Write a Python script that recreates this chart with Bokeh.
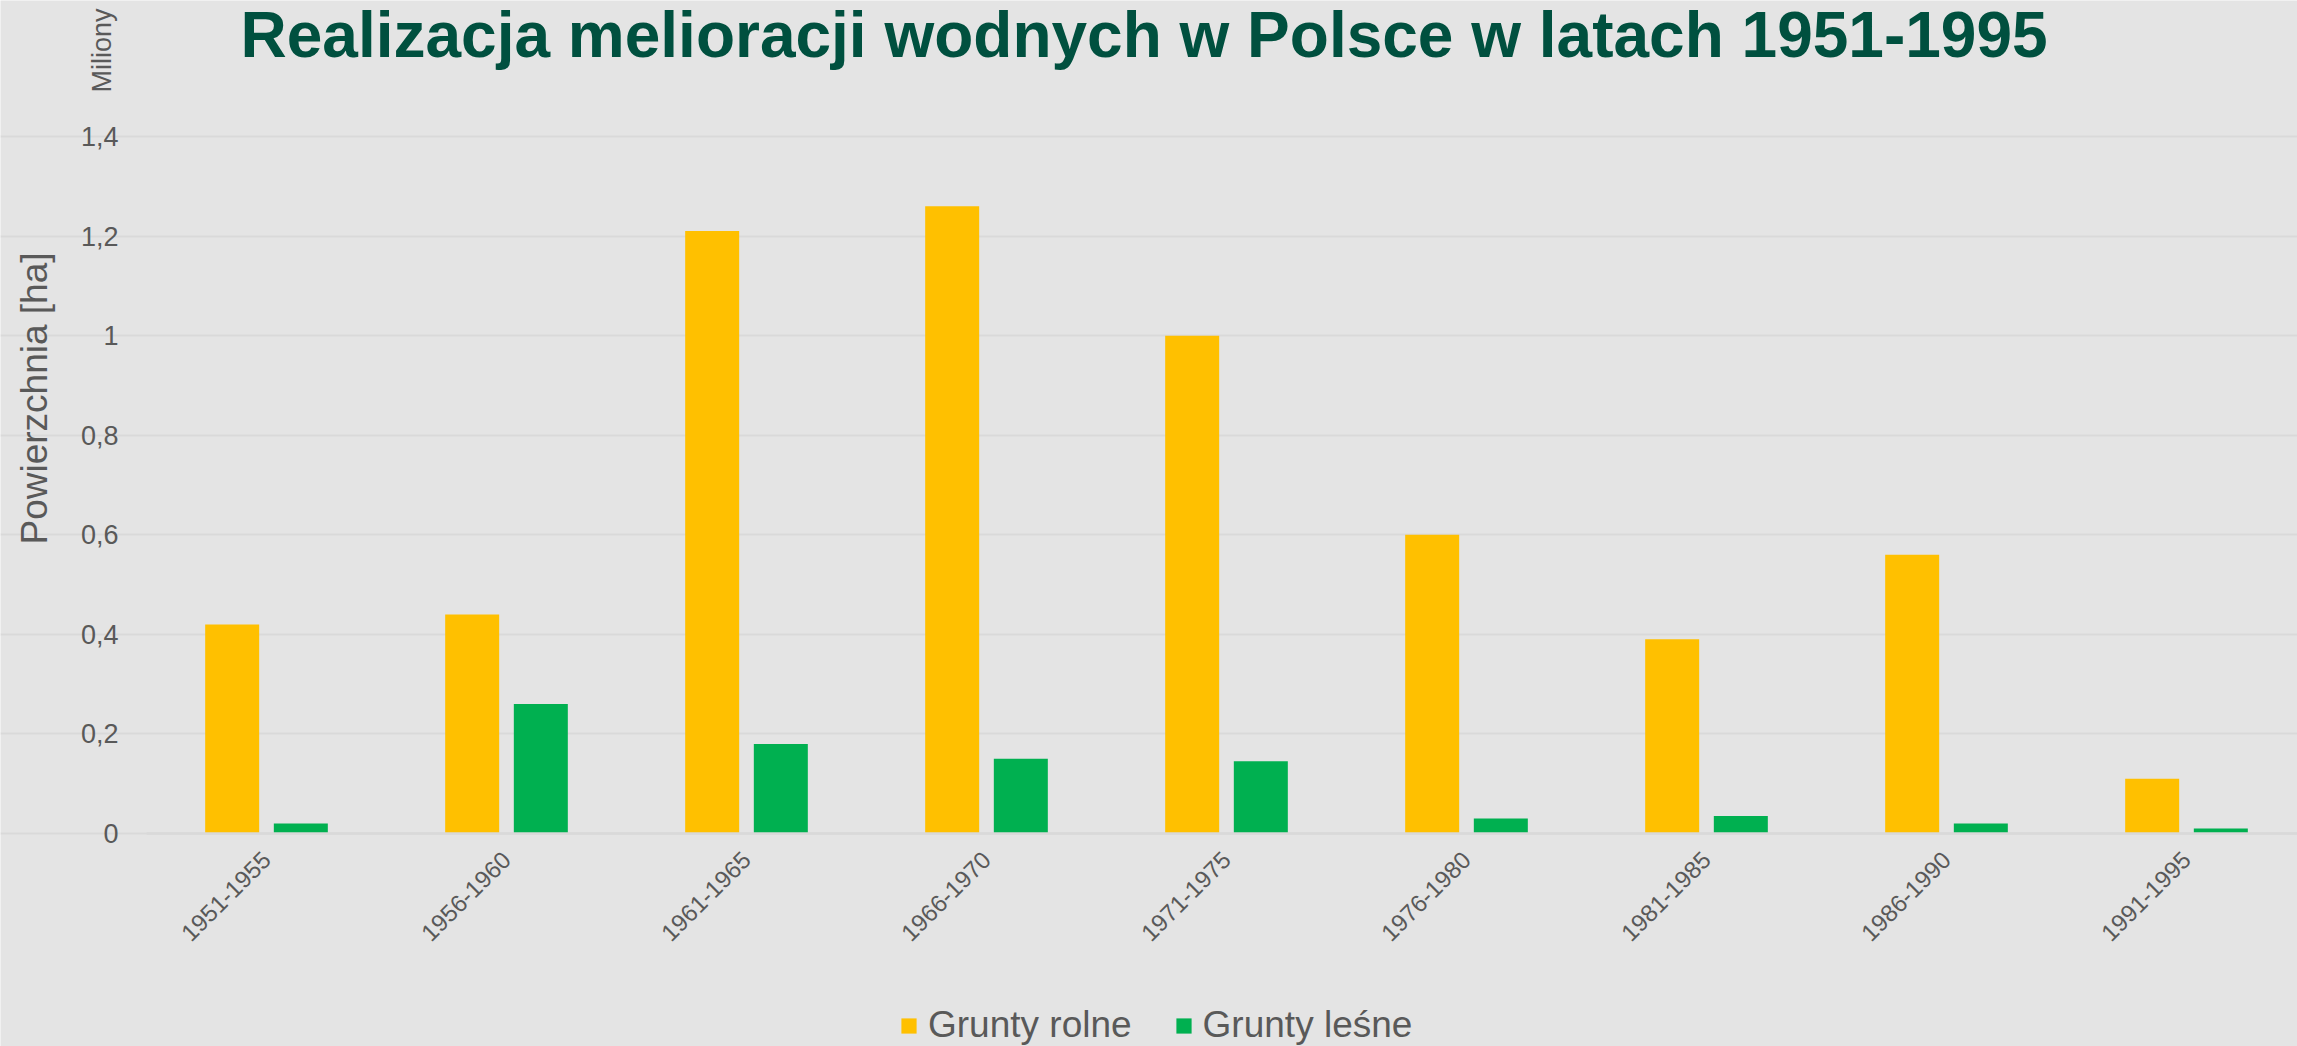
import math
from bokeh.plotting import figure
from bokeh.models import (ColumnDataSource, Range1d, Label, Legend, LegendItem,
                          CustomJSTickFormatter, FixedTicker)
from bokeh.transform import dodge
from bokeh.embed import file_html
from bokeh.resources import INLINE

# ---- data ----
periods = ["1951-1955", "1956-1960", "1961-1965", "1966-1970", "1971-1975",
           "1976-1980", "1981-1985", "1986-1990", "1991-1995"]
grunty_rolne = [0.42, 0.44, 1.21, 1.26, 1.00, 0.60, 0.39, 0.56, 0.11]
grunty_lesne = [0.02, 0.26, 0.18, 0.15, 0.145, 0.03, 0.035, 0.02, 0.01]
y_ticks = [0, 0.2, 0.4, 0.6, 0.8, 1.0, 1.2, 1.4]
series_names = ["Grunty rolne", "Grunty leśne"]
title_text = "Realizacja melioracji wodnych w Polsce w latach 1951-1995"
y_title = "Powierzchnia [ha]"
unit_text = "Miliony"

BG = "#E4E4E4"
GRID = "#D9D9D9"
TXT = "#595959"
FONT = "Liberation Sans"
YELLOW = "#FFC000"
GREEN = "#00B050"

W, H = 2297, 1046
# layout geometry (pixels): plot area from x=146, zero line at y=833, 1.4 at y=136
CAT_PX = 240.0
X0_PX = 266.0            # centre of first category
Y0_PX, YTOP_PX = 833.0, 136.0
k = (Y0_PX - YTOP_PX) / 1.4
x_start = -X0_PX / CAT_PX
x_end = (W - X0_PX) / CAT_PX
y_start = -(H - Y0_PX) / k
y_end = Y0_PX / k
cat_left = -0.5

idx = list(range(len(periods)))
src = ColumnDataSource(dict(idx=idx, period=periods, rolne=grunty_rolne, lesne=grunty_lesne))

p = figure(width=W, height=H, x_range=Range1d(x_start, x_end), y_range=Range1d(y_start, y_end),
           output_backend="svg", toolbar_location=None, title=None, min_border=0,
           background_fill_color=BG, border_fill_color=BG)
p.outline_line_color = None

r1 = p.vbar(x=dodge("idx", -0.143), top="rolne", width=0.225,
            source=src, fill_color=YELLOW, line_color=None)
r2 = p.vbar(x=dodge("idx", 0.143), top="lesne", width=0.225,
            source=src, fill_color=GREEN, line_color=None)

p.xgrid.visible = False
p.ygrid.grid_line_color = GRID
p.ygrid.grid_line_width = 2
p.ygrid.ticker = FixedTicker(ticks=y_ticks)
p.ygrid.bounds = (cat_left, x_end)

ya = p.yaxis[0]
ya.fixed_location = cat_left
ya.ticker = FixedTicker(ticks=y_ticks)
ya.formatter = CustomJSTickFormatter(
    code="const s = (Math.round(tick*10)/10).toString(); return s.replace('.', ',');")
ya.axis_line_color = None
ya.major_tick_line_color = None
ya.minor_tick_line_color = None
ya.major_tick_out = 0
ya.major_tick_in = 0
ya.major_label_standoff = 28
ya.major_label_text_font = FONT
ya.major_label_text_font_size = "27px"
ya.major_label_text_color = TXT

xa = p.xaxis[0]
xa.fixed_location = 0
xa.bounds = (cat_left, x_end)
xa.ticker = FixedTicker(ticks=idx)
xa.formatter = CustomJSTickFormatter(
    args=dict(labels=periods),
    code="const i = Math.round(tick); return (i >= 0 && i < labels.length) ? labels[i] : '';")
xa.axis_line_color = GRID
xa.axis_line_width = 2.5
xa.major_tick_line_color = None
xa.minor_tick_line_color = None
xa.major_tick_out = 0
xa.major_tick_in = 0
xa.major_label_orientation = math.pi / 4
xa.major_label_standoff = 22
xa.major_label_text_font = FONT
xa.major_label_text_font_size = "24px"
xa.major_label_text_color = TXT

# texts (screen units measured from bottom-left of the canvas)
p.add_layout(Label(x=240, y=H - 34, x_units="screen", y_units="screen", text=title_text,
                   text_font=FONT, text_font_size="64px", text_font_style="bold",
                   text_color="#00503F", text_align="left", text_baseline="middle"))
p.add_layout(Label(x=101, y=H - 50, x_units="screen", y_units="screen", text=unit_text,
                   angle=math.pi / 2, text_font=FONT, text_font_size="27px",
                   text_color=TXT, text_align="center", text_baseline="middle"))
p.add_layout(Label(x=34, y=H - 398, x_units="screen", y_units="screen", text=y_title,
                   angle=math.pi / 2, text_font=FONT, text_font_size="37px",
                   text_color=TXT, text_align="center", text_baseline="middle"))

legend = Legend(items=[LegendItem(label=series_names[0], renderers=[r1]),
                       LegendItem(label=series_names[1], renderers=[r2])],
                orientation="horizontal", location=(899, 0),
                glyph_width=19, glyph_height=19, label_standoff=10, spacing=42,
                padding=0, margin=0, border_line_color=None, background_fill_alpha=0,
                label_text_font=FONT, label_text_font_size="37px", label_text_color=TXT)
p.add_layout(legend, "center")

open("out.html", "w").write(file_html(p, INLINE))
